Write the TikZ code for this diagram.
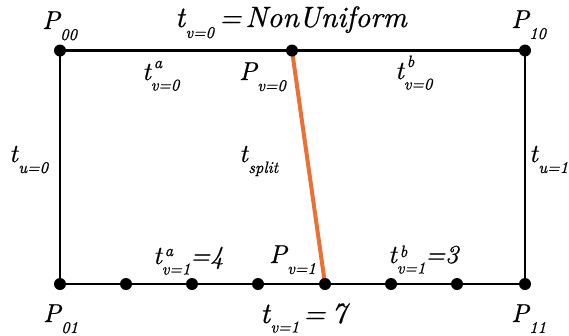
\documentclass[tikz,border=0pt]{standalone}
\usepackage{fontspec}
\newfontfamily\lblfont{lmroman10}[Extension=.otf, UprightFont=*-regular, ItalicFont=*-italic, ItalicFeatures={FakeBold=0.6}]
\definecolor{splitorange}{RGB}{234,112,52}
\newcommand\mainsz{\lblfont\fontsize{26}{26}\selectfont\itshape}
\newcommand\bigsz{\lblfont\fontsize{29.5}{29.5}\selectfont\itshape}
\newcommand\subsz{\fontsize{16.5}{16.5}\selectfont\itshape}
\newcommand\Lsub[2]{#1\kern0.5pt\raisebox{-11pt}{\subsz #2}}
\newcommand\Lsupsub[4][12pt]{#2\rlap{\kern3pt\raisebox{#1}{\subsz #3}}\raisebox{-10.5pt}{\subsz #4}}
\tikzset{
  dot/.style={circle, fill=black, inner sep=0pt, minimum size=12bp},
  edge/.style={line width=2.6bp, black},
  splitline/.style={line width=4bp, splitorange},
  lbl/.style={anchor=base west, inner sep=0pt, font=\mainsz},
  biglbl/.style={anchor=base west, inner sep=0pt, font=\bigsz},
}
\begin{document}
\begin{tikzpicture}[x=1bp, y=-1bp]
\useasboundingbox (0,0) rectangle (569,335);
% corner and split coordinates
\coordinate (p00) at (60,50.5);
\coordinate (pv0) at (292,50.5);
\coordinate (p10) at (525,50.5);
\coordinate (p01) at (60,284);
\coordinate (q1) at (126,284);
\coordinate (q2) at (192,284);
\coordinate (q3) at (258,284);
\coordinate (pv1) at (325,284);
\coordinate (q5) at (391,284);
\coordinate (q6) at (457,284);
\coordinate (p11) at (525,284);
% edges
\draw[edge] (p00) -- (pv0) -- (p10) -- (p11) -- (q6) -- (q5) -- (pv1) -- (q3) -- (q2) -- (q1) -- (p01) -- cycle;
\draw[splitline] (pv0) -- (pv1);
% dots
\foreach \c in {p00,pv0,p10,p01,q1,q2,q3,pv1,q5,q6,p11}
  \node[dot] (d\c) at (\c) {};
% labels
\node[lbl] (lP00) at (42,29) {\Lsub{P}{00}};
\node[biglbl] (ltop) at (175,27) {\Lsub{t}{v=0}\kern5pt=\kern4pt NonUniform};
\node[lbl] (lP10) at (511,28) {\Lsub{P}{10}};
\node[lbl] (lta0) at (142,80) {\Lsupsub{t}{a}{v=0}};
\node[lbl] (lPv0) at (239,80) {\Lsub{P}{v=0}};
\node[lbl] (ltb0) at (395,79) {\Lsupsub{t}{b}{v=0}};
\node[lbl] (ltu0) at (9,162) {\Lsub{t}{u=0}};
\node[lbl] (ltsplit) at (239,162) {\Lsub{t}{split}};
\node[lbl] (ltu1) at (529,162) {\Lsub{t}{u=1}};
\node[lbl] (lta1) at (153,264) {\Lsupsub[8pt]{t}{a}{v=1}=4};
\node[lbl] (lPv1) at (269,263) {\Lsub{P}{v=1}};
\node[lbl] (ltb1) at (388,263) {\Lsupsub[6pt]{t}{b}{v=1}=3};
\node[lbl] (lP01) at (43,322) {\Lsub{P}{01}};
\node[biglbl] (lbot) at (260,323) {\Lsub{t}{\raisebox{1.5pt}{v=1}}\kern4pt=\kern6pt 7};
\node[lbl] (lP11) at (511,322) {\Lsub{P}{11}};
\end{tikzpicture}
\end{document}
